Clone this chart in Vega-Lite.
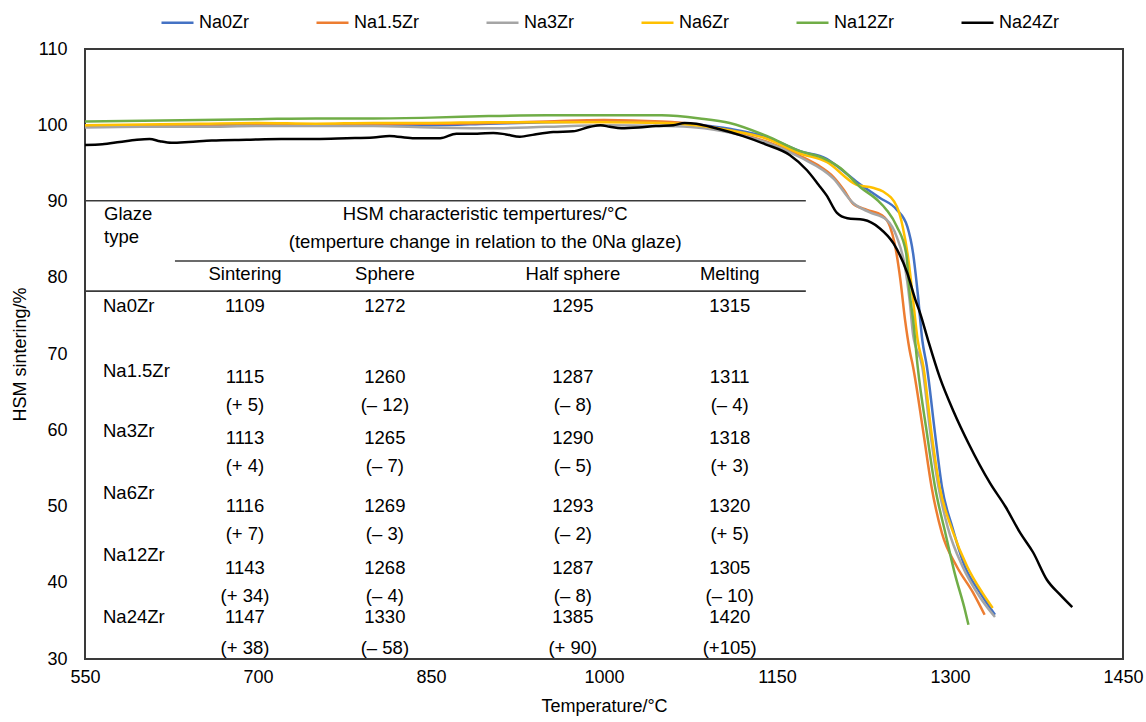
{
  "$schema": "https://vega.github.io/schema/vega-lite/v6.json",
  "width": 1038,
  "height": 610,
  "autosize": {"type": "none"},
  "padding": {"left": 85, "top": 49, "right": 23, "bottom": 63},
  "background": "white",
  "config": {
    "font": "Liberation Sans",
    "view": {"stroke": "#3a3a3a", "strokeWidth": 2},
    "axis": {"grid": false, "ticks": false, "tickSize": 0, "domain": false, "labelFontSize": 18, "labelColor": "#000", "titleFontSize": 18, "titleFontWeight": "normal", "titleColor": "#000", "labelFlush": false, "labelOverlap": false},
    "text": {"font": "Liberation Sans", "fontSize": 18.5, "color": "#000"}
  },
  "datasets": {
    "curves": [
      {"glaze":"Na0Zr","T":550,"pct":99.9},{"glaze":"Na0Zr","T":600,"pct":99.9},{"glaze":"Na0Zr","T":650,"pct":100.0},{"glaze":"Na0Zr","T":700,"pct":100.1},{"glaze":"Na0Zr","T":750,"pct":100.0},{"glaze":"Na0Zr","T":800,"pct":100.1},{"glaze":"Na0Zr","T":850,"pct":100.0},{"glaze":"Na0Zr","T":900,"pct":100.2},{"glaze":"Na0Zr","T":950,"pct":100.4},{"glaze":"Na0Zr","T":1000,"pct":100.5},{"glaze":"Na0Zr","T":1050,"pct":100.4},{"glaze":"Na0Zr","T":1080,"pct":100.1},{"glaze":"Na0Zr","T":1110,"pct":99.5},{"glaze":"Na0Zr","T":1140,"pct":98.5},{"glaze":"Na0Zr","T":1170,"pct":96.6},{"glaze":"Na0Zr","T":1193,"pct":95.6},{"glaze":"Na0Zr","T":1205,"pct":94.3},{"glaze":"Na0Zr","T":1219,"pct":92.6},{"glaze":"Na0Zr","T":1239,"pct":90.5},{"glaze":"Na0Zr","T":1254,"pct":88.9},{"glaze":"Na0Zr","T":1263,"pct":86.7},{"glaze":"Na0Zr","T":1268,"pct":83.2},{"glaze":"Na0Zr","T":1272,"pct":78.0},{"glaze":"Na0Zr","T":1276,"pct":71.8},{"glaze":"Na0Zr","T":1280,"pct":68.3},{"glaze":"Na0Zr","T":1287,"pct":59.6},{"glaze":"Na0Zr","T":1293,"pct":52.6},{"glaze":"Na0Zr","T":1302,"pct":47.3},{"glaze":"Na0Zr","T":1313,"pct":42.1},{"glaze":"Na0Zr","T":1326,"pct":38.7},{"glaze":"Na0Zr","T":1339,"pct":35.8},
      {"glaze":"Na1.5Zr","T":550,"pct":99.8},{"glaze":"Na1.5Zr","T":600,"pct":99.9},{"glaze":"Na1.5Zr","T":650,"pct":99.9},{"glaze":"Na1.5Zr","T":700,"pct":100.0},{"glaze":"Na1.5Zr","T":750,"pct":100.1},{"glaze":"Na1.5Zr","T":800,"pct":100.2},{"glaze":"Na1.5Zr","T":850,"pct":100.2},{"glaze":"Na1.5Zr","T":900,"pct":100.3},{"glaze":"Na1.5Zr","T":950,"pct":100.5},{"glaze":"Na1.5Zr","T":1000,"pct":100.7},{"glaze":"Na1.5Zr","T":1050,"pct":100.5},{"glaze":"Na1.5Zr","T":1080,"pct":100.1},{"glaze":"Na1.5Zr","T":1110,"pct":99.2},{"glaze":"Na1.5Zr","T":1140,"pct":97.9},{"glaze":"Na1.5Zr","T":1170,"pct":96.0},{"glaze":"Na1.5Zr","T":1185,"pct":94.8},{"glaze":"Na1.5Zr","T":1199,"pct":93.2},{"glaze":"Na1.5Zr","T":1208,"pct":91.5},{"glaze":"Na1.5Zr","T":1216,"pct":89.7},{"glaze":"Na1.5Zr","T":1228,"pct":88.9},{"glaze":"Na1.5Zr","T":1241,"pct":88.2},{"glaze":"Na1.5Zr","T":1248,"pct":86.7},{"glaze":"Na1.5Zr","T":1252,"pct":84.5},{"glaze":"Na1.5Zr","T":1257,"pct":79.7},{"glaze":"Na1.5Zr","T":1261,"pct":74.5},{"glaze":"Na1.5Zr","T":1265,"pct":70.5},{"glaze":"Na1.5Zr","T":1268,"pct":68.3},{"glaze":"Na1.5Zr","T":1277,"pct":59.6},{"glaze":"Na1.5Zr","T":1284,"pct":52.6},{"glaze":"Na1.5Zr","T":1293,"pct":46.5},{"glaze":"Na1.5Zr","T":1306,"pct":42.1},{"glaze":"Na1.5Zr","T":1320,"pct":38.7},{"glaze":"Na1.5Zr","T":1330,"pct":35.8},
      {"glaze":"Na3Zr","T":550,"pct":99.7},{"glaze":"Na3Zr","T":600,"pct":99.8},{"glaze":"Na3Zr","T":650,"pct":99.8},{"glaze":"Na3Zr","T":700,"pct":99.9},{"glaze":"Na3Zr","T":750,"pct":99.9},{"glaze":"Na3Zr","T":800,"pct":99.9},{"glaze":"Na3Zr","T":850,"pct":99.7},{"glaze":"Na3Zr","T":900,"pct":99.6},{"glaze":"Na3Zr","T":950,"pct":99.8},{"glaze":"Na3Zr","T":1000,"pct":100.0},{"glaze":"Na3Zr","T":1050,"pct":99.9},{"glaze":"Na3Zr","T":1080,"pct":99.7},{"glaze":"Na3Zr","T":1110,"pct":99.0},{"glaze":"Na3Zr","T":1140,"pct":97.8},{"glaze":"Na3Zr","T":1170,"pct":95.8},{"glaze":"Na3Zr","T":1199,"pct":93.0},{"glaze":"Na3Zr","T":1216,"pct":89.8},{"glaze":"Na3Zr","T":1230,"pct":88.6},{"glaze":"Na3Zr","T":1245,"pct":87.6},{"glaze":"Na3Zr","T":1254,"pct":85.3},{"glaze":"Na3Zr","T":1261,"pct":81.4},{"glaze":"Na3Zr","T":1265,"pct":77.0},{"glaze":"Na3Zr","T":1268,"pct":72.5},{"glaze":"Na3Zr","T":1276,"pct":68.3},{"glaze":"Na3Zr","T":1283,"pct":59.6},{"glaze":"Na3Zr","T":1290,"pct":52.6},{"glaze":"Na3Zr","T":1298,"pct":47.3},{"glaze":"Na3Zr","T":1311,"pct":42.1},{"glaze":"Na3Zr","T":1326,"pct":38.1},{"glaze":"Na3Zr","T":1339,"pct":35.5},
      {"glaze":"Na6Zr","T":550,"pct":100.0},{"glaze":"Na6Zr","T":600,"pct":100.1},{"glaze":"Na6Zr","T":650,"pct":100.2},{"glaze":"Na6Zr","T":700,"pct":100.3},{"glaze":"Na6Zr","T":750,"pct":100.2},{"glaze":"Na6Zr","T":800,"pct":100.3},{"glaze":"Na6Zr","T":850,"pct":100.3},{"glaze":"Na6Zr","T":900,"pct":100.4},{"glaze":"Na6Zr","T":950,"pct":100.4},{"glaze":"Na6Zr","T":1000,"pct":100.4},{"glaze":"Na6Zr","T":1050,"pct":100.3},{"glaze":"Na6Zr","T":1080,"pct":100.0},{"glaze":"Na6Zr","T":1110,"pct":99.3},{"glaze":"Na6Zr","T":1140,"pct":98.3},{"glaze":"Na6Zr","T":1170,"pct":96.3},{"glaze":"Na6Zr","T":1193,"pct":95.2},{"glaze":"Na6Zr","T":1219,"pct":92.2},{"glaze":"Na6Zr","T":1233,"pct":91.8},{"glaze":"Na6Zr","T":1242,"pct":91.3},{"glaze":"Na6Zr","T":1254,"pct":89.3},{"glaze":"Na6Zr","T":1259,"pct":86.7},{"glaze":"Na6Zr","T":1264,"pct":82.3},{"glaze":"Na6Zr","T":1268,"pct":77.1},{"glaze":"Na6Zr","T":1272,"pct":71.8},{"glaze":"Na6Zr","T":1277,"pct":68.3},{"glaze":"Na6Zr","T":1284,"pct":59.6},{"glaze":"Na6Zr","T":1291,"pct":52.6},{"glaze":"Na6Zr","T":1302,"pct":46.9},{"glaze":"Na6Zr","T":1315,"pct":42.1},{"glaze":"Na6Zr","T":1328,"pct":38.7},{"glaze":"Na6Zr","T":1337,"pct":36.7},
      {"glaze":"Na12Zr","T":550,"pct":100.5},{"glaze":"Na12Zr","T":600,"pct":100.6},{"glaze":"Na12Zr","T":650,"pct":100.7},{"glaze":"Na12Zr","T":700,"pct":100.8},{"glaze":"Na12Zr","T":750,"pct":100.9},{"glaze":"Na12Zr","T":800,"pct":100.9},{"glaze":"Na12Zr","T":850,"pct":101.0},{"glaze":"Na12Zr","T":900,"pct":101.2},{"glaze":"Na12Zr","T":950,"pct":101.3},{"glaze":"Na12Zr","T":1000,"pct":101.3},{"glaze":"Na12Zr","T":1050,"pct":101.3},{"glaze":"Na12Zr","T":1083,"pct":100.9},{"glaze":"Na12Zr","T":1109,"pct":100.3},{"glaze":"Na12Zr","T":1141,"pct":98.6},{"glaze":"Na12Zr","T":1170,"pct":96.6},{"glaze":"Na12Zr","T":1190,"pct":95.7},{"glaze":"Na12Zr","T":1205,"pct":94.4},{"glaze":"Na12Zr","T":1222,"pct":91.9},{"glaze":"Na12Zr","T":1237,"pct":90.2},{"glaze":"Na12Zr","T":1245,"pct":88.9},{"glaze":"Na12Zr","T":1254,"pct":86.7},{"glaze":"Na12Zr","T":1262,"pct":83.2},{"glaze":"Na12Zr","T":1265,"pct":78.0},{"glaze":"Na12Zr","T":1268,"pct":74.5},{"glaze":"Na12Zr","T":1272,"pct":68.3},{"glaze":"Na12Zr","T":1280,"pct":59.6},{"glaze":"Na12Zr","T":1287,"pct":52.6},{"glaze":"Na12Zr","T":1296,"pct":46.5},{"glaze":"Na12Zr","T":1304,"pct":41.3},{"glaze":"Na12Zr","T":1313,"pct":36.4},{"glaze":"Na12Zr","T":1316,"pct":34.5},
      {"glaze":"Na24Zr","T":550,"pct":97.4},{"glaze":"Na24Zr","T":565,"pct":97.5},{"glaze":"Na24Zr","T":580,"pct":97.8},{"glaze":"Na24Zr","T":595,"pct":98.1},{"glaze":"Na24Zr","T":606,"pct":98.2},{"glaze":"Na24Zr","T":615,"pct":97.9},{"glaze":"Na24Zr","T":625,"pct":97.7},{"glaze":"Na24Zr","T":640,"pct":97.8},{"glaze":"Na24Zr","T":660,"pct":98.0},{"glaze":"Na24Zr","T":690,"pct":98.1},{"glaze":"Na24Zr","T":720,"pct":98.2},{"glaze":"Na24Zr","T":750,"pct":98.2},{"glaze":"Na24Zr","T":777,"pct":98.3},{"glaze":"Na24Zr","T":800,"pct":98.4},{"glaze":"Na24Zr","T":814,"pct":98.6},{"glaze":"Na24Zr","T":834,"pct":98.3},{"glaze":"Na24Zr","T":858,"pct":98.3},{"glaze":"Na24Zr","T":872,"pct":98.9},{"glaze":"Na24Zr","T":890,"pct":98.9},{"glaze":"Na24Zr","T":904,"pct":99.0},{"glaze":"Na24Zr","T":915,"pct":98.8},{"glaze":"Na24Zr","T":927,"pct":98.5},{"glaze":"Na24Zr","T":940,"pct":98.8},{"glaze":"Na24Zr","T":956,"pct":99.1},{"glaze":"Na24Zr","T":973,"pct":99.2},{"glaze":"Na24Zr","T":988,"pct":99.8},{"glaze":"Na24Zr","T":997,"pct":100.0},{"glaze":"Na24Zr","T":1005,"pct":99.8},{"glaze":"Na24Zr","T":1015,"pct":99.6},{"glaze":"Na24Zr","T":1030,"pct":99.7},{"glaze":"Na24Zr","T":1045,"pct":99.9},{"glaze":"Na24Zr","T":1060,"pct":100.0},{"glaze":"Na24Zr","T":1070,"pct":100.3},{"glaze":"Na24Zr","T":1080,"pct":100.2},{"glaze":"Na24Zr","T":1097,"pct":99.6},{"glaze":"Na24Zr","T":1120,"pct":98.6},{"glaze":"Na24Zr","T":1140,"pct":97.5},{"glaze":"Na24Zr","T":1161,"pct":96.1},{"glaze":"Na24Zr","T":1176,"pct":94.1},{"glaze":"Na24Zr","T":1186,"pct":92.2},{"glaze":"Na24Zr","T":1193,"pct":90.8},{"glaze":"Na24Zr","T":1202,"pct":88.5},{"glaze":"Na24Zr","T":1211,"pct":87.8},{"glaze":"Na24Zr","T":1225,"pct":87.6},{"glaze":"Na24Zr","T":1239,"pct":86.5},{"glaze":"Na24Zr","T":1251,"pct":84.5},{"glaze":"Na24Zr","T":1263,"pct":80.6},{"glaze":"Na24Zr","T":1270,"pct":77.1},{"glaze":"Na24Zr","T":1274,"pct":75.4},{"glaze":"Na24Zr","T":1281,"pct":71.8},{"glaze":"Na24Zr","T":1291,"pct":67.0},{"glaze":"Na24Zr","T":1303,"pct":62.5},{"glaze":"Na24Zr","T":1316,"pct":58.3},{"glaze":"Na24Zr","T":1335,"pct":53.0},{"glaze":"Na24Zr","T":1348,"pct":50.0},{"glaze":"Na24Zr","T":1361,"pct":46.5},{"glaze":"Na24Zr","T":1372,"pct":44.0},{"glaze":"Na24Zr","T":1384,"pct":40.4},{"glaze":"Na24Zr","T":1395,"pct":38.5},{"glaze":"Na24Zr","T":1406,"pct":36.8}
    ],
    "tableRules": [
      {"T": 550, "T2": 1175, "pct": 90.1},
      {"T": 628, "T2": 1175, "pct": 82.2},
      {"T": 550, "T2": 1175, "pct": 78.25}
    ],
    "tableLeft": [
      {"t": "Glaze", "T": 566.5, "pct": 88.4},
      {"t": "type", "T": 566.5, "pct": 85.3},
      {"t": "Na0Zr", "T": 565.6, "pct": 76.3},
      {"t": "Na1.5Zr", "T": 565.6, "pct": 67.8},
      {"t": "Na3Zr", "T": 565.6, "pct": 59.9},
      {"t": "Na6Zr", "T": 565.6, "pct": 51.8},
      {"t": "Na12Zr", "T": 565.6, "pct": 43.6},
      {"t": "Na24Zr", "T": 565.6, "pct": 35.5}
    ],
    "tableCenter": [
      {"t": "HSM characteristic tempertures/°C", "T": 897, "pct": 88.4},
      {"t": "(temperture change in relation to the 0Na glaze)", "T": 897, "pct": 84.7},
      {"t": "Sintering", "T": 688.7, "pct": 80.5},
      {"t": "Sphere", "T": 810, "pct": 80.5},
      {"t": "Half sphere", "T": 973, "pct": 80.5},
      {"t": "Melting", "T": 1109, "pct": 80.5},
      {"t": "1109", "T": 688.7, "pct": 76.3},
      {"t": "1272", "T": 810, "pct": 76.3},
      {"t": "1295", "T": 973, "pct": 76.3},
      {"t": "1315", "T": 1109, "pct": 76.3},
      {"t": "1115", "T": 688.7, "pct": 67.0},
      {"t": "1260", "T": 810, "pct": 67.0},
      {"t": "1287", "T": 973, "pct": 67.0},
      {"t": "1311", "T": 1109, "pct": 67.0},
      {"t": "(+ 5)", "T": 688.7, "pct": 63.3},
      {"t": "(– 12)", "T": 810, "pct": 63.3},
      {"t": "(– 8)", "T": 973, "pct": 63.3},
      {"t": "(– 4)", "T": 1109, "pct": 63.3},
      {"t": "1113", "T": 688.7, "pct": 59.0},
      {"t": "1265", "T": 810, "pct": 59.0},
      {"t": "1290", "T": 973, "pct": 59.0},
      {"t": "1318", "T": 1109, "pct": 59.0},
      {"t": "(+ 4)", "T": 688.7, "pct": 55.3},
      {"t": "(– 7)", "T": 810, "pct": 55.3},
      {"t": "(– 5)", "T": 973, "pct": 55.3},
      {"t": "(+ 3)", "T": 1109, "pct": 55.3},
      {"t": "1116", "T": 688.7, "pct": 50.1},
      {"t": "1269", "T": 810, "pct": 50.1},
      {"t": "1293", "T": 973, "pct": 50.1},
      {"t": "1320", "T": 1109, "pct": 50.1},
      {"t": "(+ 7)", "T": 688.7, "pct": 46.4},
      {"t": "(– 3)", "T": 810, "pct": 46.4},
      {"t": "(– 2)", "T": 973, "pct": 46.4},
      {"t": "(+ 5)", "T": 1109, "pct": 46.4},
      {"t": "1143", "T": 688.7, "pct": 41.9},
      {"t": "1268", "T": 810, "pct": 41.9},
      {"t": "1287", "T": 973, "pct": 41.9},
      {"t": "1305", "T": 1109, "pct": 41.9},
      {"t": "(+ 34)", "T": 688.7, "pct": 38.3},
      {"t": "(– 4)", "T": 810, "pct": 38.3},
      {"t": "(– 8)", "T": 973, "pct": 38.3},
      {"t": "(– 10)", "T": 1109, "pct": 38.3},
      {"t": "1147", "T": 688.7, "pct": 35.5},
      {"t": "1330", "T": 810, "pct": 35.5},
      {"t": "1385", "T": 973, "pct": 35.5},
      {"t": "1420", "T": 1109, "pct": 35.5},
      {"t": "(+ 38)", "T": 688.7, "pct": 31.4},
      {"t": "(– 58)", "T": 810, "pct": 31.4},
      {"t": "(+ 90)", "T": 973, "pct": 31.4},
      {"t": "(+105)", "T": 1109, "pct": 31.4}
    ]
  },
  "layer": [
    {
      "data": {"name": "tableRules"},
      "mark": {"type": "rule", "color": "#3a3a3a", "strokeWidth": 1.6},
      "encoding": {
        "x": {"field": "T", "type": "quantitative", "scale": {"domain": [550, 1450], "nice": false, "zero": false}},
        "x2": {"field": "T2"},
        "y": {"field": "pct", "type": "quantitative", "scale": {"domain": [30, 110], "nice": false, "zero": false}}
      }
    },
    {
      "data": {"name": "curves"},
      "mark": {"type": "line", "strokeWidth": 2.5, "interpolate": "monotone"},
      "encoding": {
        "x": {"field": "T", "type": "quantitative", "title": "Temperature/°C", "scale": {"domain": [550, 1450], "nice": false, "zero": false},
              "axis": {"values": [550, 700, 850, 1000, 1150, 1300, 1450], "format": "d", "labelPadding": 9, "titlePadding": 11}},
        "y": {"field": "pct", "type": "quantitative", "title": "HSM sintering/%", "scale": {"domain": [30, 110], "nice": false, "zero": false},
              "axis": {"values": [30, 40, 50, 60, 70, 80, 90, 100, 110], "format": "d", "labelPadding": 18, "titlePadding": 7}},
        "color": {
          "field": "glaze", "type": "nominal",
          "scale": {"domain": ["Na0Zr", "Na1.5Zr", "Na3Zr", "Na6Zr", "Na12Zr", "Na24Zr"], "range": ["#4472C4", "#ED7D31", "#A5A5A5", "#FFC000", "#70AD47", "#000000"]},
          "legend": {"orient": "none", "legendX": 75, "legendY": -44, "direction": "horizontal", "title": null,
                     "symbolType": "stroke", "symbolSize": 1024, "symbolStrokeWidth": 2.5, "labelFontSize": 18, "labelColor": "#000",
                     "labelOffset": 4, "columnPadding": 61, "labelFont": "Liberation Sans"}
        }
      }
    },
    {
      "data": {"name": "tableLeft"},
      "mark": {"type": "text", "align": "left", "baseline": "middle"},
      "encoding": {
        "x": {"field": "T", "type": "quantitative"},
        "y": {"field": "pct", "type": "quantitative"},
        "text": {"field": "t"}
      }
    },
    {
      "data": {"name": "tableCenter"},
      "mark": {"type": "text", "align": "center", "baseline": "middle"},
      "encoding": {
        "x": {"field": "T", "type": "quantitative"},
        "y": {"field": "pct", "type": "quantitative"},
        "text": {"field": "t"}
      }
    }
  ]
}
